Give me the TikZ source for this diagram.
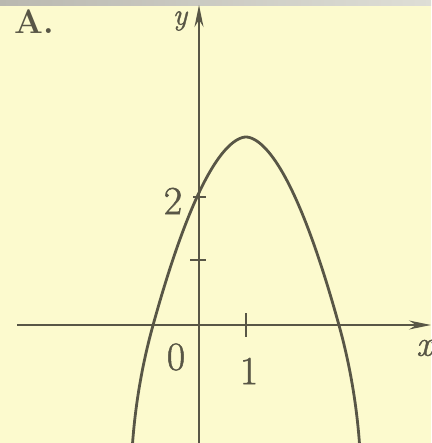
\documentclass[tikz,border=0pt]{standalone}
\usepackage{fontspec}
\usetikzlibrary{arrows.meta}
\newfontfamily\heavyrm{Latin Modern Roman}[FakeBold=1.2]
\definecolor{bg}{RGB}{252,250,206}
\definecolor{ink}{RGB}{88,86,70}
\definecolor{stripL}{RGB}{185,184,176}
\definecolor{stripR}{RGB}{222,222,214}
\tikzset{
  axis/.style={draw=ink, line width=1.8pt, -{Stealth[length=22pt,width=9pt]}},
  curve/.style={draw=ink, line width=2.8pt, line cap=round},
  tick/.style={draw=ink, line width=1.8pt},
  lbl/.style={text=ink, inner sep=0pt, font=\heavyrm\fontsize{40}{40}\selectfont},
}
\begin{document}
\begin{tikzpicture}[x=1pt,y=-1pt]
\useasboundingbox (0,0) rectangle (431,443);
\fill[bg] (0,0) rectangle (431,443);
\shade[left color=stripL, right color=stripR] (0,0) rectangle (431,6);
% axes
\coordinate (xs) at (17,325);
\coordinate (xe) at (431,325);
\coordinate (ys) at (199,443);
\coordinate (ye) at (199,5);
\draw[axis] (xs) -- (xe);
\draw[axis] (ys) -- (ye);
% ticks
\coordinate (t1a) at (246,313); \coordinate (t1b) at (246,337);
\coordinate (ty1a) at (190,260); \coordinate (ty1b) at (206,260);
\coordinate (ty2a) at (193,197); \coordinate (ty2b) at (206,197);
\draw[tick] (t1a) -- (t1b);
\draw[tick] (ty1a) -- (ty1b);
\draw[tick] (ty2a) -- (ty2b);
% curve
\draw[curve] plot[domain=-1.01:1.01, samples=200, variable=\t]
  ({246 + sign(\t)*(4.95*pow(309*\t*\t,0.56) - 0.000636*max(0,309*\t*\t-190)*max(0,309*\t*\t-190))},
   {137 + 309*\t*\t});
% labels
\node[lbl, font=\fontsize{34}{34}\selectfont\bfseries] (A) at (34,22) {A.};
\node[lbl, font=\heavyrm\fontsize{30}{30}\selectfont\itshape] (y) at (180,21) {y};
\node[lbl, font=\heavyrm\fontsize{36}{36}\selectfont\itshape, anchor=west] (x) at (416,348) {x};
\node[lbl] (two) at (173,201) {2};
\node[lbl] (zero) at (176,357) {0};
\node[lbl] (one) at (249,371) {1};
\end{tikzpicture}
\end{document}
